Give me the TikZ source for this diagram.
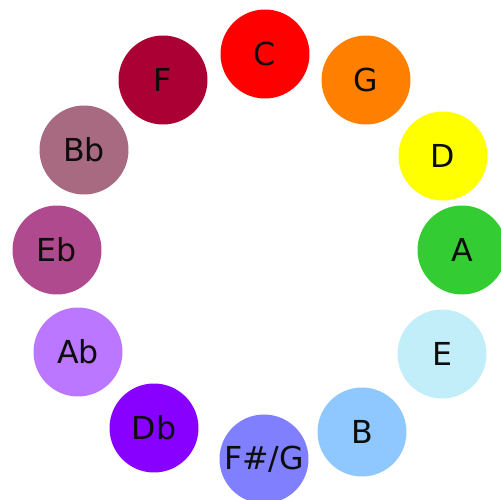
\documentclass[tikz,border=0pt]{standalone}
\usepackage{fontspec}
\setmainfont{DejaVu Sans}
\definecolor{colC}{HTML}{FE0000}
\definecolor{colG}{HTML}{FF8000}
\definecolor{colD}{HTML}{FFFF00}
\definecolor{colA}{HTML}{33CC33}
\definecolor{colE}{HTML}{C2EEFA}
\definecolor{colB}{HTML}{8EC8FF}
\definecolor{colFs}{HTML}{8080FF}
\definecolor{colDb}{HTML}{8800FF}
\definecolor{colAb}{HTML}{BB77FF}
\definecolor{colEb}{HTML}{B04A8E}
\definecolor{colBb}{HTML}{A86A80}
\definecolor{colF}{HTML}{AA0033}
\tikzset{
  note/.style={circle, minimum size=1.78cm, inner sep=0pt, text=black!95,
    font=\fontsize{18}{21}\selectfont}
}
\begin{document}
\begin{tikzpicture}[x=0.02cm, y=-0.02cm]
    \useasboundingbox (0,0) rectangle (500,500);

    % circle of fifths
    \node [note, fill=colC] (c) at (265, 54) {C};
    \node [note, fill=colG] (g) at (366, 80) {G};
    \node [note, fill=colD] (d) at (443, 156) {D};
    \node [note, fill=colA] (a) at (462, 250) {A};
    \node [note, fill=colE] (e) at (442, 354) {E};
    \node [note, fill=colB] (b) at (362, 432) {B};
    \node [note, fill=colFs] (fs) at (264, 459) {F\#/G};
    \node [note, fill=colDb] (db) at (154, 428) {Db};
    \node [note, fill=colAb] (ab) at (78, 352) {Ab};
    \node [note, fill=colEb] (eb) at (57, 250) {Eb};
    \node [note, fill=colBb] (bb) at (84, 150) {Bb};
    \node [note, fill=colF] (f) at (163, 80) {F};
\end{tikzpicture}
\end{document}
